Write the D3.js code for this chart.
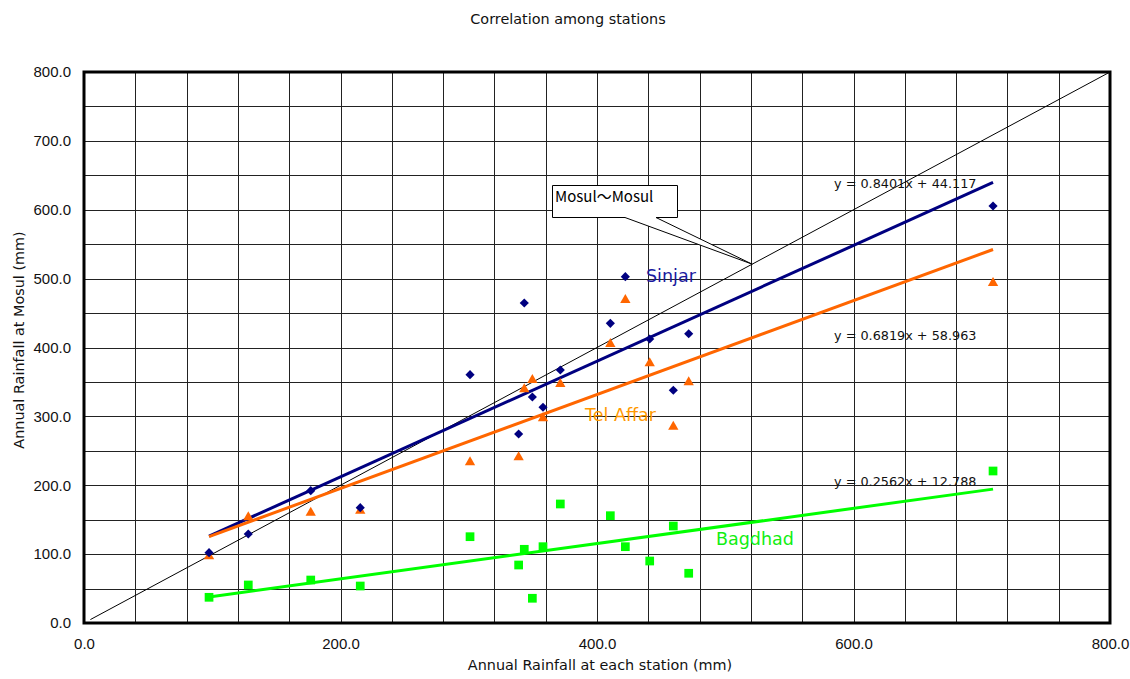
<!DOCTYPE html>
<html><head><meta charset="utf-8">
<script src="https://cdn.jsdelivr.net/npm/d3@7"></script>
<style>
body{margin:0;background:#fff;}
svg{display:block;}
</style></head>
<body>
<svg id="chart" width="1130" height="679"></svg>
<script>
// ---- data ----
const stationRain = [97.5, 128.1, 176.8, 215.4, 301.0, 338.9, 343.3, 349.6, 357.9, 371.4, 410.4, 422.1, 441.1, 459.5, 471.5, 708.8];
const sinjar   = [102.1, 129.2, 192.1, 167.4, 360.5, 274.4, 464.6, 328.1, 313.2, 367.3, 435.1, 502.8, 412.3, 337.9, 420.0, 605.4];
const telAffar = [97.0, 153.5, 160.1, 163.0, 233.3, 240.6, 339.3, 352.8, 297.2, 347.0, 405.1, 469.0, 377.1, 285.0, 349.5, 493.6];
const bagdhad  = [37.3, 55.2, 62.4, 53.7, 125.3, 84.2, 107.0, 35.9, 110.8, 172.8, 155.8, 110.8, 90.0, 140.8, 72.2, 220.7];
const seriesNames = ["Sinjar", "Tel Affar", "Bagdhad"];
const slopes = [0.8401, 0.6819, 0.2562];
const intercepts = [44.117, 58.963, 12.788];
const equationLabels = ["y = 0.8401x + 44.117", "y = 0.6819x + 58.963", "y = 0.2562x + 12.788"];
const xTickValues = [0, 200, 400, 600, 800];
const yTickValues = [0, 100, 200, 300, 400, 500, 600, 700, 800];
const diagonal = [5, 800];
const calloutText = "Mosul～Mosul";
const calloutValue = 521;

// ---- layout ----
const svg = d3.select("#chart");
const L = 84, R = 1110, T = 72, B = 623;
const x = d3.scaleLinear().domain([0, 800]).range([L, R]);
const y = d3.scaleLinear().domain([0, 800]).range([B, T]);

const colors = ["#000080", "#FF6600", "#00FF00"];
const labelColors = ["#1a1a9e", "#FF9900", "#11EE11"];
const seriesData = [sinjar, telAffar, bagdhad];

// grid
const gx = d3.range(0, 801, 40), gy = d3.range(0, 801, 50);
svg.append("g").selectAll("line").data(gx).join("line")
  .attr("x1", d => Math.round(x(d)) + 0.5).attr("x2", d => Math.round(x(d)) + 0.5)
  .attr("y1", T).attr("y2", B).attr("stroke", "#222").attr("stroke-width", 1);
svg.append("g").selectAll("line").data(gy).join("line")
  .attr("y1", d => Math.round(y(d)) + 0.5).attr("y2", d => Math.round(y(d)) + 0.5)
  .attr("x1", L).attr("x2", R).attr("stroke", "#222").attr("stroke-width", 1);

// axes (labels)
const fontNum = "'Liberation Sans', Arial, sans-serif";
const fontG = "'DejaVu Sans', sans-serif";
const fontJP = "'Noto Sans CJK JP', 'Noto Sans', sans-serif";
const yAxis = d3.axisLeft(y).tickValues(yTickValues).tickFormat(d3.format(".1f")).tickSize(0).tickPadding(13);
const ya = svg.append("g").attr("transform", `translate(${L},0)`).call(yAxis);
ya.select(".domain").remove();
ya.selectAll("text").attr("font-family", fontNum).attr("font-size", 15).attr("fill", "#111");
const xAxis = d3.axisBottom(x).tickValues(xTickValues).tickFormat(d3.format(".1f")).tickSize(0).tickPadding(15);
const xa = svg.append("g").attr("transform", `translate(0,${B})`).call(xAxis);
xa.select(".domain").remove();
xa.selectAll("text").attr("font-family", fontNum).attr("font-size", 15).attr("fill", "#111");

// diagonal 1:1 line
svg.append("line")
  .attr("x1", x(diagonal[0])).attr("y1", y(diagonal[0]))
  .attr("x2", x(diagonal[1])).attr("y2", y(diagonal[1]))
  .attr("stroke", "#000").attr("stroke-width", 1);

// trend lines
const xMin = d3.min(stationRain), xMax = d3.max(stationRain);
seriesData.forEach((s, i) => {
  svg.append("line")
    .attr("x1", x(xMin)).attr("y1", y(slopes[i] * xMin + intercepts[i]))
    .attr("x2", x(xMax)).attr("y2", y(slopes[i] * xMax + intercepts[i]))
    .attr("stroke", colors[i]).attr("stroke-width", 3);
});

// markers
const pts = i => stationRain.map((v, k) => [v, seriesData[i][k]]);
svg.append("g").selectAll("path").data(pts(2)).join("path")
  .attr("d", d3.symbol(d3.symbolSquare, 76))
  .attr("transform", d => `translate(${x(d[0])},${y(d[1])})`).attr("fill", colors[2]);
svg.append("g").selectAll("path").data(pts(1)).join("path")
  .attr("d", d3.symbol(d3.symbolTriangle, 46))
  .attr("transform", d => `translate(${x(d[0])},${y(d[1])})`).attr("fill", colors[1]);
svg.append("g").selectAll("path").data(pts(0)).join("path")
  .attr("d", d3.symbol(d3.symbolSquare, 42))
  .attr("transform", d => `translate(${x(d[0])},${y(d[1])}) rotate(45)`).attr("fill", colors[0]);

// frame
svg.append("rect").attr("x", L).attr("y", T).attr("width", R - L).attr("height", B - T)
  .attr("fill", "none").attr("stroke", "#000").attr("stroke-width", 3);

// equation labels
const eqPos = [[834, 188], [834, 340], [834, 486]];
equationLabels.forEach((t, i) => {
  svg.append("text").attr("x", eqPos[i][0]).attr("y", eqPos[i][1])
    .attr("font-family", fontG).attr("font-size", 12.8).attr("fill", "#111").text(t);
});

// series labels
const lblPos = [[646, 282], [585, 421], [716, 545]];
seriesNames.forEach((t, i) => {
  svg.append("text").attr("x", lblPos[i][0]).attr("y", lblPos[i][1])
    .attr("font-family", fontG).attr("font-size", 17.5).attr("fill", labelColors[i]).text(t);
});

// callout
const tip = [x(calloutValue), y(calloutValue)];
svg.append("path")
  .attr("d", `M625,217.5 L${tip[0]},${tip[1]} L656,217.5 L677.5,217.5 L677.5,185.5 L552.5,185.5 L552.5,217.5 Z`)
  .attr("fill", "#fff").attr("stroke", "#000").attr("stroke-width", 1);
svg.append("text").attr("x", 555).attr("y", 202)
  .attr("font-family", fontJP).attr("font-size", 15).attr("fill", "#000").text(calloutText);

// titles
svg.append("text").attr("x", 568).attr("y", 24).attr("text-anchor", "middle")
  .attr("font-family", fontG).attr("font-size", 14.4).attr("fill", "#111").text("Correlation among stations");
svg.append("text").attr("x", 600).attr("y", 670).attr("text-anchor", "middle")
  .attr("font-family", fontG).attr("font-size", 14.4).attr("fill", "#111").text("Annual Rainfall at each station (mm)");
svg.append("text").attr("transform", "translate(24,340) rotate(-90)").attr("text-anchor", "middle")
  .attr("font-family", fontG).attr("font-size", 14.4).attr("fill", "#111").text("Annual Rainfall at Mosul (mm)");
</script>
</body></html>
